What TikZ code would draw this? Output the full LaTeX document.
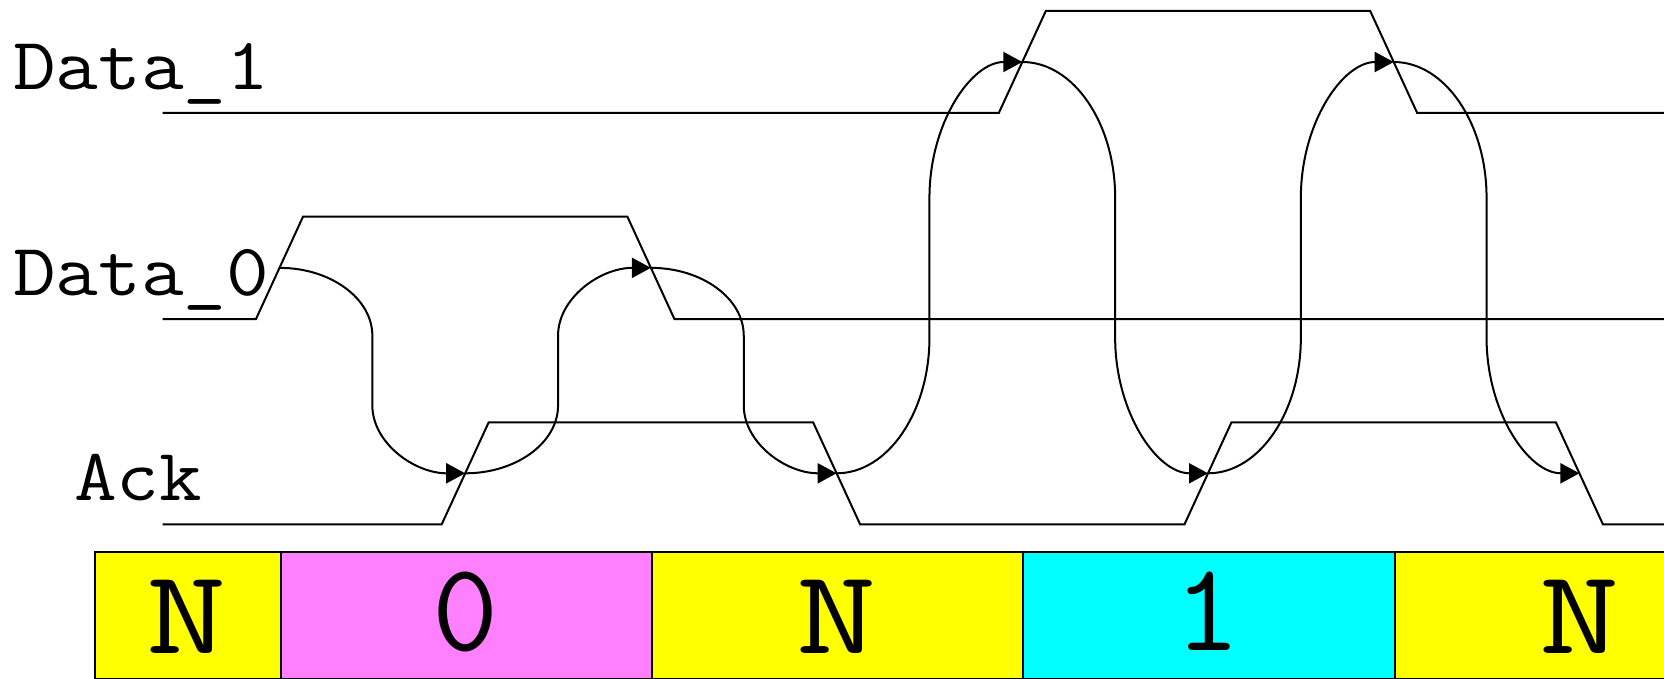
\documentclass[tikz,border=0pt]{standalone}
\usepackage{fontspec}
\newfontfamily\sigmono{Latin Modern Mono}[FakeStretch=1.12]
\newfontfamily\cellN{Latin Modern Mono}[FakeStretch=1.3]
\newfontfamily\cellD{Latin Modern Mono}[FakeStretch=1.02]
\usetikzlibrary{arrows.meta,calc}
\definecolor{nyel}{HTML}{FFFF00}
\definecolor{zmag}{HTML}{FF80FF}
\definecolor{ocyan}{HTML}{00FFFF}
\newcommand\hsk[2]{\draw[hs] let \p1=(#1), \p2=(#2), \n1={(\x1+\x2)/2}, \n2={0.33*(\y2-\y1)}, \n3={0.55*(\x2-\x1)/2} in
  (#1) .. controls ({\x1+\n3*1pt},\y1) and ({\n1*1pt},{\y1+0.45*\n2*1pt}) .. ({\n1*1pt},{\y1+\n2*1pt})
  -- ({\n1*1pt},{\y2-\n2*1pt}) .. controls ({\n1*1pt},{\y2-0.45*\n2*1pt}) and ({\x2-\n3*1pt},\y2) .. (#2);}
\begin{document}
\begin{tikzpicture}[x=1pt,y=-1pt,
  sig/.style={line width=2pt, line join=miter},
  hs/.style={line width=2pt, -{Triangle[length=19pt,width=20pt]}},
  cell/.style={draw=black, line width=2pt, anchor=north west, minimum height=127.6pt, inner sep=0pt},
  celltxt/.style={anchor=base, inner sep=0pt, font=\cellN\fontsize{120}{130}\selectfont},
  celldig/.style={anchor=base, inner sep=0pt, font=\cellD\fontsize{126}{136}\selectfont},
  lbl/.style={anchor=base west, inner sep=0pt, font=\sigmono\fontsize{74}{80}\selectfont}]
\clip (0,0) rectangle (1664,679);
% labels
\node[lbl] (l1) at (13,89.5) {Data\_1};
\node[lbl] (l0) at (13,295) {Data\_0};
\node[lbl] (la) at (74,500) {Ack};
% waveforms
\draw[sig] (162.5,113) -- (998.8,113) -- (1045.8,11) -- (1370.2,11) -- (1417.2,113) -- (1670,113);
\draw[sig] (162.5,319) -- (256,319) -- (303,216.7) -- (627.4,216.7) -- (674.4,319) -- (1670,319);
\draw[sig] (162.5,524.3) -- (441.7,524.3) -- (488.7,422.3) -- (813.1,422.3) -- (860.1,524.3)
  -- (1184.5,524.3) -- (1231.5,422.3) -- (1555.9,422.3) -- (1602.9,524.3) -- (1670,524.3);
% transition midpoints
\coordinate (d0r) at (279.5,267.85);
\coordinate (a1)  at (465.2,473.3);
\coordinate (d0f) at (650.9,267.85);
\coordinate (a2)  at (836.6,473.3);
\coordinate (d1r) at (1022.3,62);
\coordinate (a3)  at (1208,473.3);
\coordinate (d1f) at (1393.7,62);
\coordinate (a4)  at (1579.4,473.3);
% handshake arrows
\hsk{d0r}{a1}
\hsk{a1}{d0f}
\hsk{d0f}{a2}
\hsk{a2}{d1r}
\hsk{d1r}{a3}
\hsk{a3}{d1f}
\hsk{d1f}{a4}
% state cells
\node[cell, fill=nyel,  minimum width=186pt]   (c0) at (93.5,550.7) {};
\node[cell, fill=zmag,  minimum width=371.4pt] (c1) at (279.5,550.7) {};
\node[cell, fill=nyel,  minimum width=371.4pt] (c2) at (650.9,550.7) {};
\node[cell, fill=ocyan, minimum width=371.4pt] (c3) at (1022.3,550.7) {};
\node[cell, fill=nyel,  minimum width=371.4pt] (c4) at (1393.7,550.7) {};
\node[celltxt] (t0) at (186.5,653) {N};
\node[celldig] (t1) at (465.2,650) {0};
\node[celltxt] (t2) at (836.6,653) {N};
\node[celldig] (t3) at (1208,650) {1};
\node[celltxt] (t4) at (1579.4,653) {N};
\end{tikzpicture}
\end{document}
